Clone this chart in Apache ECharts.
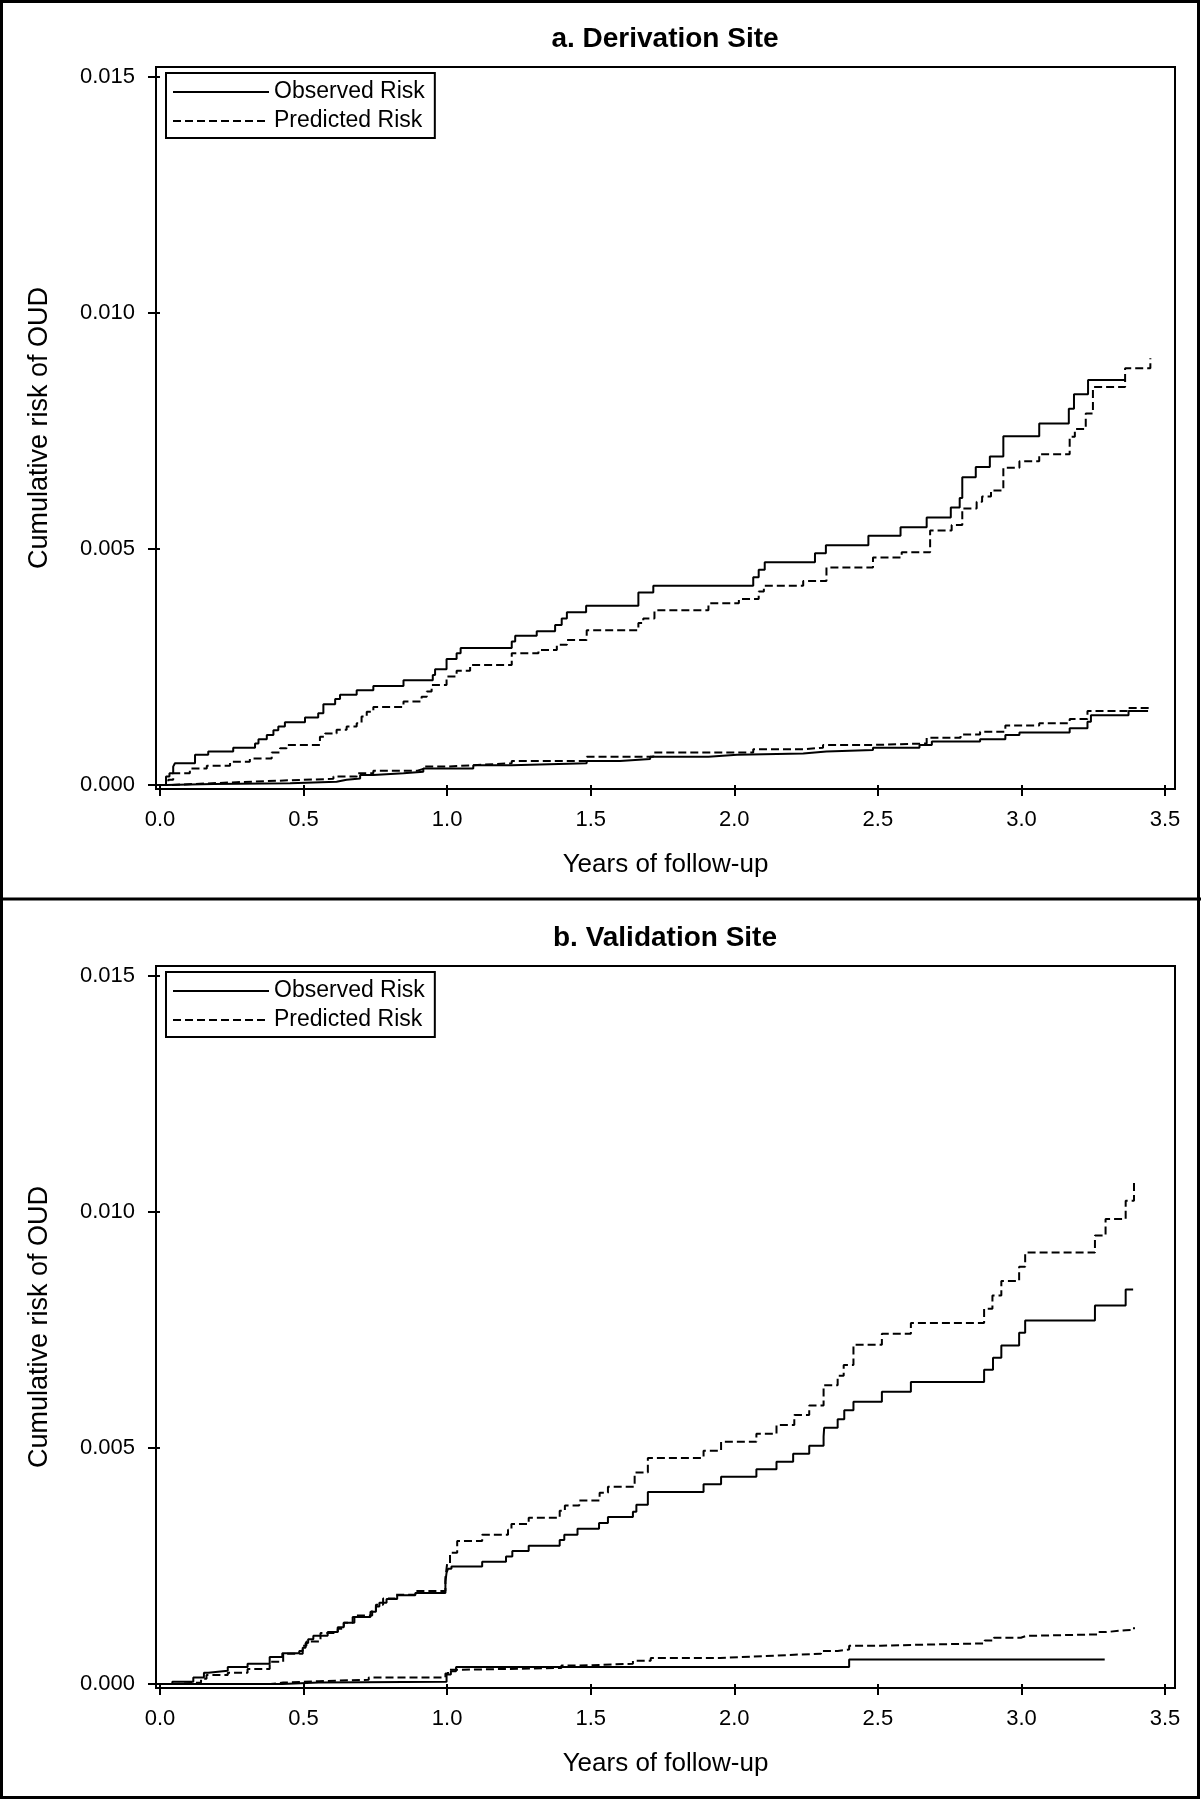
<!DOCTYPE html>
<html><head><meta charset="utf-8">
<script src="https://cdn.jsdelivr.net/npm/echarts@6/dist/echarts.min.js"></script>
<style>html,body{margin:0;padding:0;background:#fff}#c{width:1201px;height:1800px}</style>
</head><body><div id="c"></div><script>
const xTicks = [0, 0.5, 1.0, 1.5, 2.0, 2.5, 3.0, 3.5];
const yTicks = [0, 0.005, 0.010, 0.015];
const panelTitles = ['a. Derivation Site', 'b. Validation Site'];
const legendNames = ['Observed Risk', 'Predicted Risk'];
const xTitle = 'Years of follow-up';
const yTitle = 'Cumulative risk of OUD';

// [years, cumulative risk]
const derivHighObserved = [[0,0],[0.021,0.00018],[0.033,0.00025],[0.046,0.00039],[0.052,0.00046],[0.122,0.00064],[0.168,0.00071],[0.255,0.00079],[0.331,0.00088],[0.343,0.00097],[0.372,0.00106],[0.395,0.00116],[0.412,0.00124],[0.435,0.00133],[0.505,0.00143],[0.551,0.00152],[0.569,0.00171],[0.610,0.00182],[0.627,0.00191],[0.685,0.00201],[0.743,0.00210],[0.848,0.00222],[0.950,0.00233],[0.958,0.00245],[0.998,0.00267],[1.033,0.00279],[1.047,0.00290],[1.225,0.00304],[1.237,0.00316],[1.312,0.00326],[1.376,0.00339],[1.399,0.00353],[1.417,0.00366],[1.484,0.00380],[1.666,0.00408],[1.718,0.00422],[2.066,0.00440],[2.085,0.00456],[2.106,0.00472],[2.281,0.00491],[2.319,0.00508],[2.467,0.00528],[2.579,0.00546],[2.670,0.00567],[2.754,0.00588],[2.785,0.00608],[2.794,0.00652],[2.841,0.00674],[2.890,0.00696],[2.937,0.00739],[3.062,0.00766],[3.165,0.00797],[3.183,0.00828],[3.232,0.00858],[3.361,0.00858]];
const derivHighPredicted = [[0,0],[0.029,0.00011],[0.046,0.00025],[0.104,0.00035],[0.163,0.00041],[0.244,0.00049],[0.313,0.00056],[0.389,0.00069],[0.418,0.00078],[0.441,0.00085],[0.557,0.00102],[0.575,0.00109],[0.615,0.00117],[0.650,0.00124],[0.685,0.00131],[0.702,0.00145],[0.720,0.00155],[0.743,0.00165],[0.848,0.00177],[0.911,0.00187],[0.929,0.00198],[0.946,0.00212],[0.998,0.00230],[1.033,0.00242],[1.080,0.00254],[1.225,0.00279],[1.318,0.00286],[1.382,0.00297],[1.417,0.00307],[1.486,0.00328],[1.666,0.00343],[1.683,0.00353],[1.722,0.00370],[1.910,0.00385],[2.016,0.00394],[2.085,0.00410],[2.103,0.00422],[2.240,0.00432],[2.321,0.00461],[2.483,0.00482],[2.583,0.00493],[2.682,0.00539],[2.757,0.00551],[2.794,0.00586],[2.844,0.00600],[2.863,0.00611],[2.894,0.00624],[2.937,0.00672],[2.993,0.00686],[3.062,0.00701],[3.168,0.00738],[3.186,0.00754],[3.224,0.00787],[3.249,0.00843],[3.361,0.00883],[3.449,0.00904]];
const derivLowObserved = [[0,0],[0.023,0.00002],[0.186,0.000035],[0.453,0.00007],[0.615,0.00011],[0.650,0.00014],[0.697,0.00021],[0.743,0.00025],[0.848,0.00028],[0.917,0.00035],[1.091,0.00042],[1.225,0.00046],[1.486,0.00051],[1.602,0.00055],[1.707,0.00060],[1.910,0.00064],[2.010,0.00067],[2.240,0.00071],[2.321,0.00074],[2.483,0.00079],[2.645,0.00085],[2.688,0.00092],[2.856,0.00097],[2.944,0.00106],[2.993,0.00111],[3.168,0.00120],[3.230,0.00134],[3.242,0.00148],[3.373,0.00157],[3.441,0.00157]];
const derivLowPredicted = [[0,0],[0.035,0.00002],[0.116,0.00006],[0.267,0.00010],[0.453,0.00013],[0.604,0.00018],[0.685,0.00025],[0.743,0.00030],[0.894,0.00034],[0.917,0.00039],[0.998,0.00042],[1.091,0.00046],[1.225,0.00051],[1.486,0.00060],[1.718,0.00069],[2.066,0.00076],[2.246,0.00079],[2.309,0.00085],[2.489,0.00088],[2.670,0.00100],[2.788,0.00107],[2.856,0.00113],[2.944,0.00126],[3.062,0.00131],[3.168,0.00140],[3.230,0.00157],[3.367,0.00163],[3.449,0.00167]];

const validHighObserved = [[0,0],[0.043,0.00005],[0.116,0.00014],[0.153,0.00024],[0.168,0.00028],[0.236,0.00036],[0.305,0.00043],[0.382,0.00057],[0.426,0.00065],[0.485,0.00070],[0.497,0.00077],[0.507,0.00087],[0.516,0.00095],[0.534,0.00102],[0.584,0.00110],[0.619,0.00120],[0.640,0.00130],[0.671,0.00142],[0.733,0.00153],[0.752,0.00164],[0.764,0.00172],[0.789,0.00180],[0.826,0.00188],[0.889,0.00193],[0.994,0.00217],[0.998,0.00236],[1.003,0.00244],[1.015,0.00249],[1.122,0.00259],[1.205,0.00270],[1.227,0.00282],[1.284,0.00293],[1.392,0.00305],[1.408,0.00316],[1.454,0.00329],[1.529,0.00341],[1.560,0.00354],[1.647,0.00365],[1.659,0.00380],[1.699,0.00407],[1.893,0.00423],[1.954,0.00439],[2.077,0.00455],[2.147,0.00471],[2.205,0.00488],[2.261,0.00505],[2.311,0.00524],[2.313,0.00543],[2.360,0.00561],[2.383,0.00580],[2.415,0.00598],[2.514,0.00619],[2.615,0.00640],[2.870,0.00666],[2.901,0.00691],[2.930,0.00717],[2.992,0.00744],[3.013,0.00770],[3.256,0.00802],[3.363,0.00836],[3.389,0.00836]];
const validHighPredicted = [[0,0],[0.043,0.00003],[0.143,0.00011],[0.162,0.00019],[0.236,0.00024],[0.305,0.00032],[0.382,0.00047],[0.429,0.00064],[0.497,0.00081],[0.510,0.00090],[0.559,0.00108],[0.619,0.00117],[0.640,0.00130],[0.677,0.00145],[0.739,0.00155],[0.752,0.00168],[0.777,0.00181],[0.820,0.00189],[0.889,0.00197],[0.994,0.00225],[1.000,0.00255],[1.010,0.00278],[1.035,0.00303],[1.122,0.00316],[1.212,0.00327],[1.224,0.00339],[1.284,0.00352],[1.392,0.00367],[1.410,0.00378],[1.460,0.00389],[1.531,0.00405],[1.560,0.00418],[1.653,0.00448],[1.699,0.00479],[1.893,0.00494],[1.954,0.00513],[2.077,0.00530],[2.147,0.00549],[2.209,0.00570],[2.261,0.00590],[2.311,0.00633],[2.360,0.00653],[2.381,0.00676],[2.415,0.00719],[2.514,0.00742],[2.615,0.00765],[2.870,0.00795],[2.899,0.00823],[2.930,0.00854],[2.992,0.00884],[3.013,0.00914],[3.256,0.00950],[3.293,0.00985],[3.363,0.01024],[3.392,0.01066]];
const validLowObserved = [[0,0],[0.426,0.00003],[0.553,0.00005],[0.998,0.00020],[1.013,0.00027],[1.031,0.00036],[2.400,0.00052],[3.290,0.00052]];
const validLowPredicted = [[0,0],[0.385,0.00003],[0.429,0.00006],[0.553,0.00009],[0.727,0.00014],[0.994,0.00022],[1.003,0.00030],[1.031,0.00034],[1.398,0.00039],[1.460,0.00043],[1.647,0.00049],[1.709,0.00055],[1.951,0.00058],[2.058,0.00060],[2.139,0.00062],[2.209,0.00064],[2.302,0.00070],[2.360,0.00073],[2.400,0.00081],[2.510,0.00083],[2.626,0.00086],[2.872,0.00092],[2.904,0.00098],[2.998,0.00102],[3.016,0.00105],[3.265,0.00110],[3.294,0.00114],[3.363,0.00115],[3.392,0.00120]];

const FONT = "'Liberation Sans', Arial, Helvetica, sans-serif";
const panelTop = [67, 966];
const chart = echarts.init(document.getElementById('c'), null, {renderer: 'canvas'});

function mkSeries(name, data, idx, dashed) {
  return {
    name: name, type: 'line', data: data, step: 'end',
    xAxisIndex: idx, yAxisIndex: idx, symbol: 'none', showSymbol: false, silent: true,
    lineStyle: {color: '#000', width: 2, type: dashed ? [8, 4] : 'solid'},
    itemStyle: {color: '#000'}
  };
}

const grids = [], xAxes = [], yAxes = [], titles = [], legends = [];
[0, 1].forEach(function (i) {
  grids.push({left: 156, top: panelTop[i], width: 1019, height: 722, show: true,
    borderColor: '#000', borderWidth: 2, backgroundColor: 'transparent', containLabel: false});
  xAxes.push({gridIndex: i, type: 'value', min: -0.0139, max: 3.5348,
    axisLine: {show: false}, splitLine: {show: false},
    axisTick: {show: true, customValues: xTicks, length: 11, lineStyle: {color: '#000', width: 2}},
    axisLabel: {customValues: xTicks, formatter: function (v) { return v.toFixed(1); },
      fontSize: 22, color: '#000', margin: 20, fontFamily: FONT},
    name: xTitle, nameLocation: 'middle', nameGap: 63,
    nameTextStyle: {fontSize: 26, color: '#000', fontFamily: FONT}});
  yAxes.push({gridIndex: i, type: 'value', min: -0.0000847, max: 0.015212,
    axisLine: {show: false}, splitLine: {show: false},
    axisTick: {show: true, customValues: yTicks, length: 12, lineStyle: {color: '#000', width: 2}},
    axisLabel: {customValues: yTicks, formatter: function (v) { return v.toFixed(3); },
      fontSize: 22, color: '#000', margin: 21, fontFamily: FONT},
    name: yTitle, nameLocation: 'middle', nameGap: 103, nameRotate: 90,
    nameTextStyle: {fontSize: 27, color: '#000', fontFamily: FONT}});
  titles.push({text: panelTitles[i], left: 665, top: panelTop[i] - 42, textAlign: 'center', padding: 0,
    textStyle: {fontSize: 28, fontWeight: 'bold', color: '#000', fontFamily: FONT}});
  legends.push({data: legendNames, orient: 'vertical', left: 166, top: panelTop[i] + 6,
    itemWidth: 96, itemHeight: 14, itemGap: 5, padding: [7, 10, 5, 6],
    borderColor: '#000', borderWidth: 2, backgroundColor: '#fff', selectedMode: false,
    itemStyle: {opacity: 0, color: 'transparent', borderColor: 'transparent', borderWidth: 0},
    textStyle: {fontSize: 23, color: '#000', fontFamily: FONT, lineHeight: 24}});
});

const series = [
  mkSeries(legendNames[0], derivHighObserved, 0, false),
  mkSeries(legendNames[1], derivHighPredicted, 0, true),
  mkSeries(legendNames[0], derivLowObserved, 0, false),
  mkSeries(legendNames[1], derivLowPredicted, 0, true),
  mkSeries(legendNames[0], validHighObserved, 1, false),
  mkSeries(legendNames[1], validHighPredicted, 1, true),
  mkSeries(legendNames[0], validLowObserved, 1, false),
  mkSeries(legendNames[1], validLowPredicted, 1, true)
];

chart.setOption({
  animation: false,
  backgroundColor: '#fff',
  title: titles,
  legend: legends,
  grid: grids,
  xAxis: xAxes,
  yAxis: yAxes,
  series: series,
  graphic: [
    {type: 'rect', silent: true, shape: {x: 1.5, y: 1.5, width: 1197, height: 1796},
      style: {fill: 'none', stroke: '#000', lineWidth: 3}},
    {type: 'line', silent: true, shape: {x1: 0, y1: 899, x2: 1201, y2: 899},
      style: {stroke: '#000', lineWidth: 3}}
  ]
});
</script></body></html>
